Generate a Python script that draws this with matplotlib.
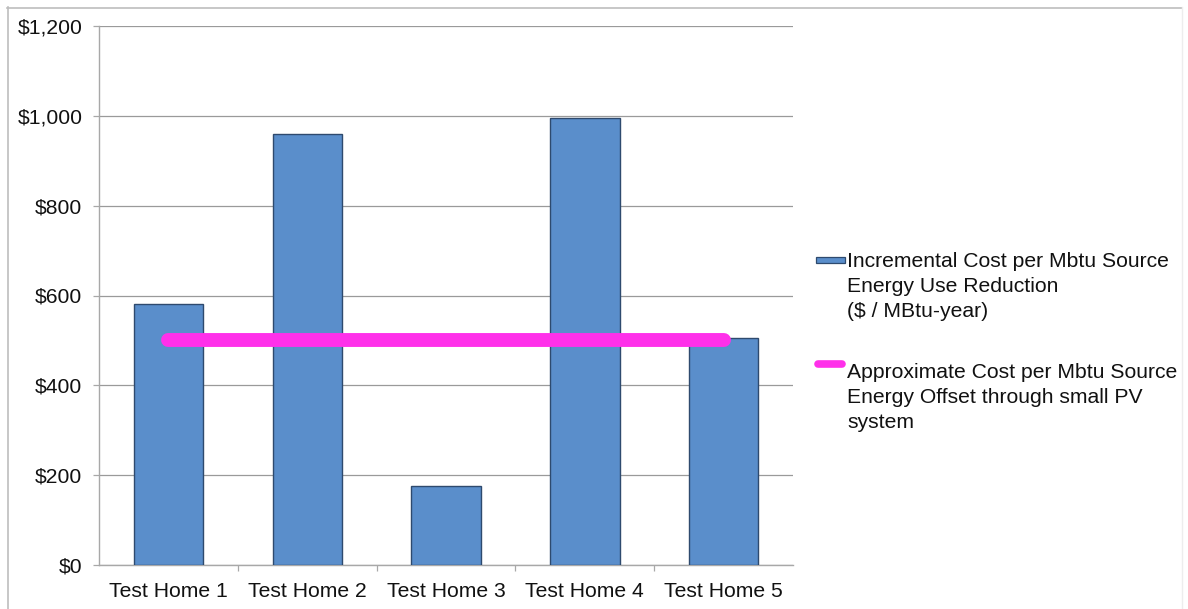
import matplotlib
matplotlib.use("Agg")
import matplotlib.pyplot as plt
from matplotlib.patches import Rectangle
from matplotlib.lines import Line2D
from matplotlib.ticker import FuncFormatter, FixedLocator

# ---- data ----
homes = ["Test Home 1", "Test Home 2", "Test Home 3", "Test Home 4", "Test Home 5"]
incremental_cost = [580, 960, 175, 995, 505]
pv_offset_cost = 500
y_ticks = [0, 200, 400, 600, 800, 1000, 1200]

bar_label_1 = ["Incremental Cost per Mbtu Source", "Energy Use Reduction", "($ / MBtu-year)"]
line_label_1 = ["Approximate Cost per Mbtu Source", "Energy Offset through small PV", "system"]

BAR_COLOR = "#5A8ECB"
BAR_EDGE = "#2E4A6E"
PV_COLOR = "#FF30EA"
GRID = "#9A9A9A"

plt.rcParams["font.family"] = ["Liberation Sans", "DejaVu Sans"]
FS = 15.2

W, H = 1188, 609
fig = plt.figure(figsize=(W / 100, H / 100), dpi=100)
fig.patch.set_facecolor("white")


def fx(px):
    return px / W


def fy(py):
    return 1 - py / H


ax = fig.add_axes([fx(99), fy(565), fx(793) - fx(99), fy(26) - fy(565)])

x = list(range(len(homes)))
ax.bar(x, incremental_cost, width=0.5, color=BAR_COLOR, edgecolor=BAR_EDGE,
       linewidth=1.0, zorder=3)
ax.plot([x[0], x[-1]], [pv_offset_cost, pv_offset_cost], color=PV_COLOR,
        linewidth=10, solid_capstyle="round", zorder=4)

ax.set_xlim(-0.5, len(homes) - 0.5)
ax.set_ylim(0, 1200)
ax.set_yticks(y_ticks)
ax.yaxis.set_major_formatter(FuncFormatter(lambda v, p: "${:,.0f}".format(v)))
ax.set_xticks(x)
ax.set_xticklabels(homes)
ax.xaxis.set_minor_locator(FixedLocator([i + 0.5 for i in range(len(homes) - 1)]))

ax.grid(axis="y", color=GRID, linewidth=0.9, zorder=0)
ax.set_axisbelow(True)
for s in ["top", "right"]:
    ax.spines[s].set_visible(False)
for s in ["left", "bottom"]:
    ax.spines[s].set_color("#A8A8A8")
    ax.spines[s].set_linewidth(1.0)

ax.tick_params(axis="y", length=4.5, width=0.9, color="#A8A8A8", pad=7.5,
               labelsize=FS, labelcolor="#111111")
ax.tick_params(axis="x", which="major", length=0, pad=12.5, labelsize=FS,
               labelcolor="#111111")
ax.tick_params(axis="x", which="minor", length=4, width=0.9, color="#A8A8A8")

# legend, drawn in figure space
fig.add_artist(Rectangle((fx(816), fy(263)), fx(845) - fx(816), fy(257) - fy(263),
                         transform=fig.transFigure, facecolor=BAR_COLOR,
                         edgecolor=BAR_EDGE, linewidth=0.9))
fig.add_artist(Line2D([fx(818), fx(842)], [fy(364), fy(364)], transform=fig.transFigure,
                      color=PV_COLOR, linewidth=5.5, solid_capstyle="round"))
for i, t in enumerate(bar_label_1):
    fig.text(fx(847), fy(267 + 25 * i), t, fontsize=FS, color="#111111",
             ha="left", va="baseline")
for i, t in enumerate(line_label_1):
    fig.text(fx(847), fy(378 + 25 * i), t, fontsize=FS, color="#111111",
             ha="left", va="baseline")

# thin page frame
fig.add_artist(Line2D([fx(7.5), fx(7.5)], [fy(7), 0], transform=fig.transFigure,
                      color="#BDBDBD", linewidth=1.2))
fig.add_artist(Line2D([fx(7), fx(1182)], [fy(7.5), fy(7.5)], transform=fig.transFigure,
                      color="#BDBDBD", linewidth=1.2))
fig.add_artist(Line2D([fx(1182), fx(1182)], [fy(7), 0], transform=fig.transFigure,
                      color="#EDEDED", linewidth=1.0))

fig.savefig("out.png", dpi=100, facecolor="white")
